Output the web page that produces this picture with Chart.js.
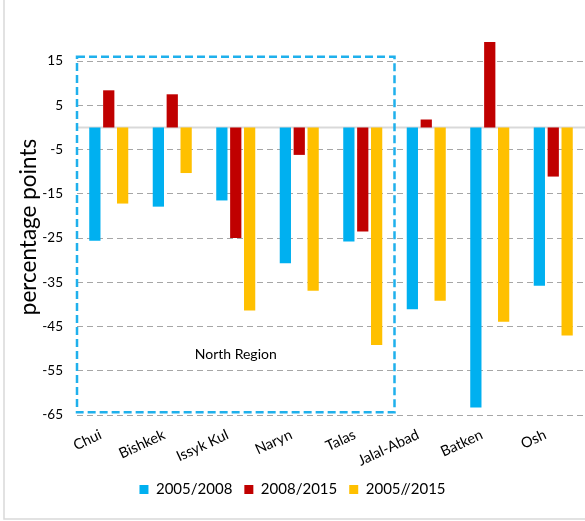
<!DOCTYPE html>
<html>
<head>
<meta charset="utf-8">
<script src="https://cdn.jsdelivr.net/npm/chart.js@4.4.1/dist/chart.umd.min.js"></script>
<style>
html,body{margin:0;padding:0;background:#fff;overflow:hidden;}
#wrap{width:585px;height:521px;position:relative;}
</style>
</head>
<body>
<div id="wrap"><canvas id="c" width="585" height="521"></canvas></div>
<script>
// ---- data ----
const categories = ['Chui','Bishkek','Issyk Kul','Naryn','Talas','Jalal-Abad','Batken','Osh'];
const seriesNames = ['2005/2008','2008/2015','2005//2015'];
const s2005_2008 = [-25.6,-17.9,-16.5,-30.7,-25.8,-41.1,-63.3,-35.8];
const s2008_2015 = [8.4,7.5,-25.0,-6.2,-23.5,1.8,19.3,-11.1];
const s2005_2015 = [-17.2,-10.3,-41.4,-36.9,-49.2,-39.2,-43.9,-47.0];
const yTicks = [15,5,-5,-15,-25,-35,-45,-55,-65];
const yMin = -65, yMax = 20;
const regionLabel = 'North Region';
const regionFirst = 0, regionLast = 4, regionTop = 16, regionBottom = -64.4, regionLabelValue = -51.3;

const colors = ['#00B0F0','#C00000','#FFC000'];
const FONT = 'Lato, "Open Sans", sans-serif';

const decor = {
  id: 'decor',
  beforeDatasetsDraw(chart) {
    const {ctx, chartArea, scales} = chart;
    const y0 = scales.y.getPixelForValue(0);
    ctx.save();
    ctx.strokeStyle = '#D9D9D9';
    ctx.lineWidth = 2;
    ctx.beginPath();
    ctx.moveTo(chartArea.left, y0);
    ctx.lineTo(chartArea.right, y0);
    ctx.stroke();
    ctx.restore();
  },
  afterDatasetsDraw(chart) {
    const {ctx, scales} = chart;
    const x = scales.x, y = scales.y;
    const half = (x.getPixelForValue(1) - x.getPixelForValue(0)) / 2;
    const l = x.getPixelForValue(regionFirst) - half;
    const r = x.getPixelForValue(regionLast) + half;
    const t = y.getPixelForValue(regionTop);
    const b = y.getPixelForValue(regionBottom);
    ctx.save();
    ctx.strokeStyle = '#1FB0EC';
    ctx.lineWidth = 2.5;
    ctx.setLineDash([8,4]);
    ctx.strokeRect(l, t, r - l, b - t);
    ctx.setLineDash([]);
    ctx.fillStyle = '#000';
    ctx.font = '14px ' + FONT;
    ctx.textAlign = 'center';
    ctx.textBaseline = 'middle';
    ctx.fillText(regionLabel, (l + r) / 2, y.getPixelForValue(regionLabelValue));
    ctx.restore();
  },
  afterDraw(chart) {
    const {ctx} = chart;
    ctx.save();
    ctx.strokeStyle = '#D9D9D9';
    ctx.lineWidth = 1.5;
    ctx.beginPath();
    ctx.moveTo(4, 0);
    ctx.lineTo(4, 519);
    ctx.lineTo(chart.width, 519);
    ctx.stroke();
    ctx.restore();
  }
};

new Chart(document.getElementById('c'), {
  type: 'bar',
  data: {
    labels: categories,
    datasets: [
      {label: seriesNames[0], data: s2005_2008, backgroundColor: colors[0]},
      {label: seriesNames[1], data: s2008_2015, backgroundColor: colors[1]},
      {label: seriesNames[2], data: s2005_2015, backgroundColor: colors[2]}
    ]
  },
  options: {
    responsive: false,
    animation: false,
    layout: {padding: {left: 0, right: 0, top: 39, bottom: 14}},
    datasets: {bar: {categoryPercentage: 0.656, barPercentage: 0.81}},
    scales: {
      x: {
        grid: {display: false},
        border: {display: false},
        ticks: {
          autoSkip: false, minRotation: 25, maxRotation: 25,
          color: '#000', font: {family: FONT, size: 14.5}, padding: 3, labelOffset: -8
        },
        afterFit(scale) { scale.height = 55; }
      },
      y: {
        min: yMin, max: yMax,
        afterBuildTicks(scale) { scale.ticks = yTicks.map(v => ({value: v})); },
        afterFit(scale) { scale.width = 77; },
        grid: {color: '#A6A6A6', lineWidth: 1, drawTicks: false},
        border: {display: false, dash: [6,4]},
        ticks: {color: '#000', font: {family: FONT, size: 13.5}, padding: 14},
        title: {display: true, text: 'percentage points', color: '#000', font: {family: FONT, size: 22.5}, padding: {top: 15, bottom: 0}}
      }
    },
    plugins: {
      legend: {
        position: 'bottom',
        labels: {boxWidth: 9, boxHeight: 9, color: '#000', font: {family: FONT, size: 15}, padding: 12}
      },
      tooltip: {enabled: false}
    }
  },
  plugins: [decor]
});
</script>
</body>
</html>
